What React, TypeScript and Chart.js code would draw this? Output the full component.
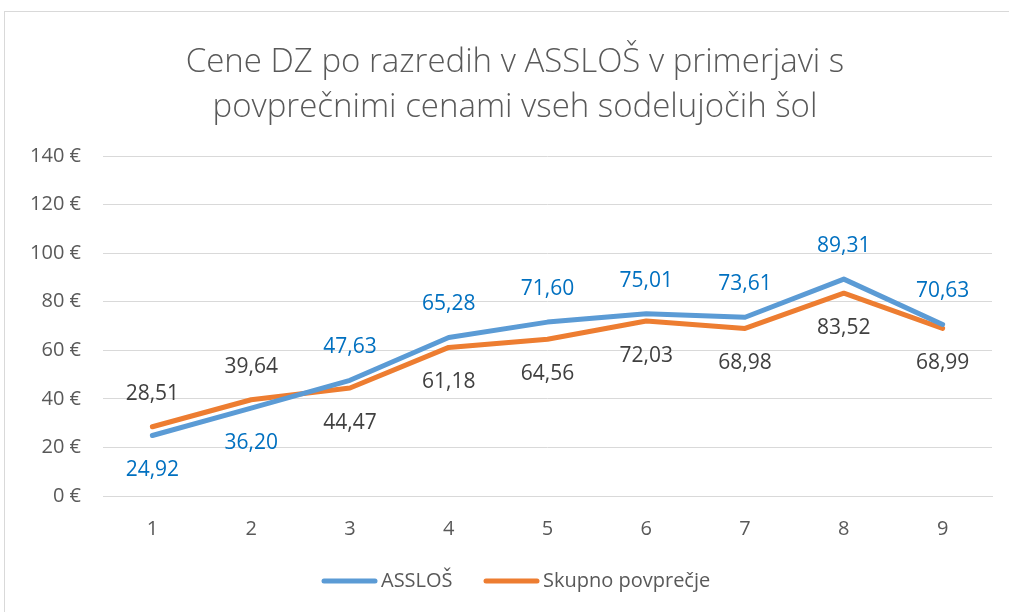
import React, { useEffect, useRef } from "react";
import { Chart, registerables } from "chart.js";

Chart.register(...registerables);

const categories = ["1", "2", "3", "4", "5", "6", "7", "8", "9"];
const assloValues = [24.92, 36.2, 47.63, 65.28, 71.6, 75.01, 73.61, 89.31, 70.63];
const averageValues = [28.51, 39.64, 44.47, 61.18, 64.56, 72.03, 68.98, 83.52, 68.99];
const assloLabelSide = ["below", "below", "above", "above", "above", "above", "above", "above", "above"];
const averageLabelSide = ["above", "above", "below", "below", "below", "below", "below", "below", "below"];
const seriesNames = ["ASSLOŠ", "Skupno povprečje"];
const titleLines = ["Cene DZ po razredih v ASSLOŠ v primerjavi s", "povprečnimi cenami vseh sodelujočih šol"];

const BLUE = "#5B9BD5";
const ORANGE = "#ED7D31";
const FONT = "'Open Sans', 'Noto Sans', sans-serif";

const fmt = (v: number) => v.toFixed(2).replace(".", ",");

const decorPlugin = {
  id: "decor",
  afterDatasetsDraw(chart: any) {
    const ctx = chart.ctx;
    ctx.save();
    // data labels
    const sides = [assloLabelSide, averageLabelSide];
    const colors = ["#0070C0", "#404040"];
    ctx.font = `21px ${FONT}`;
    ctx.textAlign = "center";
    ctx.textBaseline = "middle";
    chart.data.datasets.forEach((ds: any, di: number) => {
      const meta = chart.getDatasetMeta(di);
      ctx.fillStyle = colors[di];
      meta.data.forEach((pt: any, i: number) => {
        const off = sides[di][i] === "above" ? -33 : 35;
        ctx.fillText(fmt(ds.data[i]), pt.x, pt.y + off);
      });
    });
    // title
    ctx.fillStyle = "#595959";
    ctx.font = `300 33px ${FONT}`;
    ctx.textBaseline = "alphabetic";
    ctx.fillText(titleLines[0], 515, 72);
    ctx.fillText(titleLines[1], 515, 117);
    // legend
    const items = [
      { x: 322, color: BLUE, text: seriesNames[0] },
      { x: 484, color: ORANGE, text: seriesNames[1] },
    ];
    ctx.font = `20px ${FONT}`;
    ctx.textAlign = "left";
    ctx.textBaseline = "middle";
    items.forEach((it) => {
      ctx.strokeStyle = it.color;
      ctx.lineWidth = 5;
      ctx.lineCap = "round";
      ctx.beginPath();
      ctx.moveTo(it.x + 2, 581);
      ctx.lineTo(it.x + 53, 581);
      ctx.stroke();
      ctx.fillStyle = "#595959";
      ctx.fillText(it.text, it.x + 59, 581);
    });
    ctx.restore();
  },
};

export default function App() {
  const ref = useRef<HTMLCanvasElement>(null);
  useEffect(() => {
    document.body.style.margin = "0";
    const chart = new Chart(ref.current!, {
      type: "line",
      data: {
        labels: categories,
        datasets: [
          {
            label: seriesNames[0],
            data: assloValues,
            borderColor: BLUE,
            backgroundColor: BLUE,
            borderWidth: 5,
            pointRadius: 0,
            tension: 0,
            borderCapStyle: "round",
            borderJoinStyle: "round",
          },
          {
            label: seriesNames[1],
            data: averageValues,
            borderColor: ORANGE,
            backgroundColor: ORANGE,
            borderWidth: 5,
            pointRadius: 0,
            tension: 0,
            borderCapStyle: "round",
            borderJoinStyle: "round",
          },
        ],
      },
      options: {
        responsive: false,
        animation: false,
        layout: { padding: { left: 0, right: 17, top: 156, bottom: 56 } },
        plugins: {
          legend: { display: false },
          title: { display: false },
          tooltip: { enabled: false },
        },
        scales: {
          x: {
            offset: true,
            grid: { display: false, drawTicks: false },
            border: { display: true, color: "#d9d9d9", width: 1 },
            ticks: { color: "#595959", font: { family: FONT, size: 20 }, padding: 21 },
            afterFit: (s: any) => {
              s.height = 60;
            },
          },
          y: {
            min: 0,
            max: 140,
            ticks: {
              stepSize: 20,
              color: "#595959",
              font: { family: FONT, size: 20 },
              padding: 22,
              callback: (v: any) => `${v} €`,
            },
            grid: { color: "#d9d9d9", lineWidth: 1, drawTicks: false },
            border: { display: false },
            afterFit: (s: any) => {
              s.width = 103;
            },
          },
        },
      },
      plugins: [decorPlugin],
    });
    return () => chart.destroy();
  }, []);
  return (
    <div style={{ position: "relative", width: 1009, height: 612, overflow: "hidden" }}>
      <div
        style={{
          position: "absolute",
          left: 4,
          top: 11,
          width: 1030,
          height: 640,
          border: "1px solid #d9d9d9",
        }}
      />
      <canvas ref={ref} width={1009} height={612} style={{ position: "absolute", left: 0, top: 0 }} />
    </div>
  );
}
